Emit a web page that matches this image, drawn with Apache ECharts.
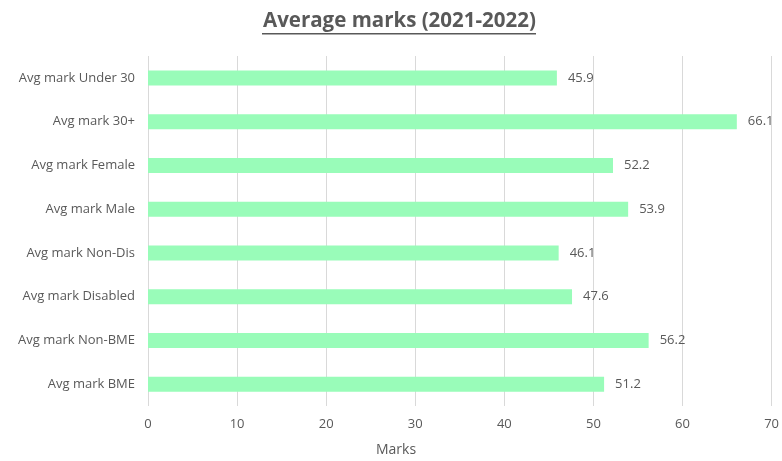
<!DOCTYPE html>
<html>
<head>
<meta charset="utf-8">
<script src="https://cdn.jsdelivr.net/npm/echarts@6/dist/echarts.min.js"></script>
<style>
  html, body { margin: 0; padding: 0; background: #fff; }
  #chart { width: 782px; height: 461px; }
</style>
</head>
<body>
<div id="chart"></div>
<script>
// Category labels, top to bottom
const categories = [
  'Avg mark Under 30',
  'Avg mark 30+',
  'Avg mark Female',
  'Avg mark Male',
  'Avg mark Non-Dis',
  'Avg mark Disabled',
  'Avg mark Non-BME',
  'Avg mark BME'
];
// Average mark for each group
const marks = [45.9, 66.1, 52.2, 53.9, 46.1, 47.6, 56.2, 51.2];
// Value-axis ticks
const axisMin = 0;
const axisMax = 70;
const axisStep = 10;

const textColor = '#595959';
const fontFamily = 'Open Sans, Noto Sans, sans-serif';

const chart = echarts.init(document.getElementById('chart'));
chart.setOption({
  animation: false,
  title: {
    text: 'Average marks (2021-2022)',
    left: 258,
    top: 6,
    textStyle: {
      color: textColor,
      fontFamily: fontFamily,
      fontSize: 20.5,
      fontWeight: 'bold'
    }
  },
  graphic: [
    {
      // title underline
      type: 'rect',
      left: 262,
      top: 33,
      shape: { width: 274, height: 1.5 },
      style: { fill: textColor }
    },
    {
      // value-axis title
      type: 'text',
      left: 376,
      top: 443,
      style: {
        text: 'Marks',
        fill: textColor,
        font: '14px ' + fontFamily
      }
    }
  ],
  grid: {
    left: 148,
    right: 9,
    top: 56,
    bottom: 55,
    containLabel: false
  },
  xAxis: {
    type: 'value',
    min: axisMin,
    max: axisMax,
    interval: axisStep,
    axisLine: { show: false },
    axisTick: { show: false },
    axisLabel: { color: textColor, fontFamily: fontFamily, fontSize: 13, margin: 12 },
    splitLine: { show: true, lineStyle: { color: '#d9d9d9', width: 1 } }
  },
  yAxis: {
    type: 'category',
    data: categories,
    inverse: true,
    axisLine: { show: false },
    axisTick: { show: false },
    axisLabel: { color: textColor, fontFamily: fontFamily, fontSize: 13, margin: 13 }
  },
  series: [{
    type: 'bar',
    data: marks,
    barWidth: 15,
    itemStyle: { color: '#99fcb9' },
    label: {
      show: true,
      position: 'right',
      distance: 11,
      color: textColor,
      fontFamily: fontFamily,
      fontSize: 13
    }
  }]
});
</script>
</body>
</html>
